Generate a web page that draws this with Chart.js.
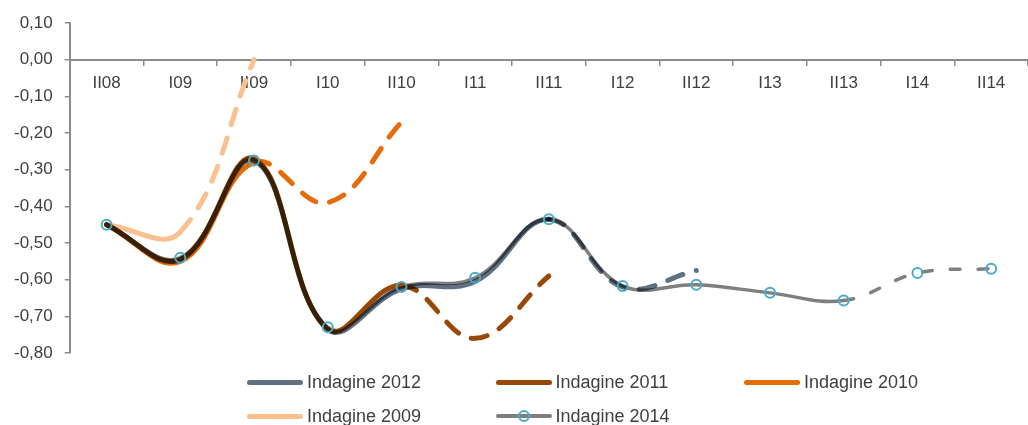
<!DOCTYPE html>
<html>
<head>
<meta charset="utf-8">
<script src="https://cdn.jsdelivr.net/npm/chart.js@4.4.0/dist/chart.umd.min.js"></script>
<style>
  body { margin: 0; background: #fff; }
  #wrap { position: relative; width: 1028px; height: 425px; }
  #legend {
    position: absolute; left: 247px; top: 369px;
    display: grid; grid-template-columns: 248.5px 248.5px 248.5px; grid-auto-rows: 34px;
    font-family: "Liberation Sans", Arial, sans-serif; font-size: 18px; color: #404040;
  }
  .item { display: flex; align-items: center; height: 26px; white-space: nowrap; }
  .bar { position: relative; width: 56px; border-radius: 3px; margin-right: 4px; }
  .dot { position: absolute; left: 22px; width: 8px; height: 8px; border: 2px solid #4bacc6; border-radius: 50%; top: -4px; }
</style>
</head>
<body>
<div id="wrap">
  <canvas id="myChart"></canvas>
  <div id="legend"></div>
</div>
<script>
const labels = ['II08', 'I09', 'II09', 'I10', 'II10', 'I11', 'II11', 'I12', 'II12', 'I13', 'II13', 'I14', 'II14'];

// valori
const ind2014 = [-0.45, -0.54, -0.275, -0.73, -0.62, -0.595, -0.435, -0.617, -0.614, -0.636, -0.657, -0.582, -0.57];
const ind2012 = [-0.45, -0.545, -0.275, -0.735, -0.625, -0.605, -0.435, -0.62, -0.575];
const ind2011 = [-0.45, -0.545, -0.27, -0.735, -0.615, -0.76, -0.59];
const ind2010 = [-0.45, -0.55, -0.28, -0.39, -0.17];
const ind2009 = [-0.45, -0.47, 0.0];

// indice del primo punto di previsione (tratteggio)
const forecastFrom = { 2014: 10, 2012: 6, 2011: 4, 2010: 2, 2009: 1 };

const colors = { 2014: '#7f7f7f', 2012: '#607080', 2011: '#984807', 2010: '#e46c0a', 2009: '#fac090' };

function serie(year, data, width, dash) {
    return {
        label: 'Indagine ' + year,
        data: data,
        borderColor: colors[year],
        borderWidth: width,
        borderCapStyle: 'round',
        pointRadius: 0,
        tension: 0.4,
        segment: {
            borderDash: c => c.p0DataIndex >= forecastFrom[year] ? dash : undefined
        }
    };
}

const markers = {
    label: 'markers',
    data: ind2014,
    showLine: false,
    pointRadius: 5,
    pointBorderWidth: 2,
    pointBorderColor: '#4bacc6',
    pointBackgroundColor: 'rgba(0,0,0,0)'
};

// la linea 2012 si sovrappone alle altre come in Excel
const multiply = {
    id: 'multiply',
    beforeDatasetDraw(chart, args) {
        if (args.index == 1) chart.ctx.globalCompositeOperation = 'multiply';
    },
    afterDatasetDraw(chart) {
        chart.ctx.globalCompositeOperation = 'source-over';
    }
};

const ctx = document.getElementById('myChart');

new Chart(ctx, {
    type: 'line',
    data: {
        labels: labels,
        datasets: [
            markers,
            serie(2012, ind2012, 5, [16, 14]),
            serie(2011, ind2011, 5, [16, 14]),
            serie(2010, ind2010, 5, [16, 14]),
            serie(2009, ind2009, 5, [16, 14]),
            serie(2014, ind2014, 3.5, [10, 18])
        ]
    },
    plugins: [multiply],
    options: {
        responsive: true,
        maintainAspectRatio: false,
        animation: false,
        layout: { autoPadding: false, padding: { left: 2, right: 0, top: 23, bottom: 72 } },
        plugins: {
            legend: { display: false },
            tooltip: { enabled: false }
        },
        scales: {
            x: {
                position: { y: 0 },
                offset: true,
                grid: { offset: true, drawOnChartArea: false, tickLength: 5, color: '#8c8c8c', lineWidth: 1.5 },
                border: { color: '#8c8c8c', width: 2 },
                ticks: { color: '#404040', padding: 8, font: { family: 'Liberation Sans', size: 17 }, maxRotation: 0 }
            },
            y: {
                min: -0.8,
                max: 0.1,
                grid: { drawOnChartArea: false, tickLength: 5, color: '#8c8c8c', lineWidth: 1.5 },
                border: { color: '#8c8c8c', width: 2 },
                ticks: {
                    stepSize: 0.1,
                    padding: 12,
                    color: '#404040',
                    font: { family: 'Liberation Sans', size: 17 },
                    callback: v => (Math.abs(v) < 1e-9 ? 0 : v).toFixed(2).replace('.', ',')
                }
            }
        }
    }
});

// legenda
const legendItems = [
    { year: 2012, h: 5 }, { year: 2011, h: 5 }, { year: 2010, h: 5 },
    { year: 2009, h: 5 }, { year: 2014, h: 4, dot: true }
];
const legend = document.getElementById('legend');
legendItems.forEach(it => {
    const el = document.createElement('div');
    el.className = 'item';
    const bar = document.createElement('span');
    bar.className = 'bar';
    bar.style.height = it.h + 'px';
    bar.style.background = colors[it.year];
    if (it.dot) {
        const d = document.createElement('span');
        d.className = 'dot';
        d.style.top = (it.h / 2 - 6) + 'px';
        bar.appendChild(d);
    }
    el.appendChild(bar);
    el.appendChild(document.createTextNode('Indagine ' + it.year));
    legend.appendChild(el);
});
</script>
</body>
</html>
